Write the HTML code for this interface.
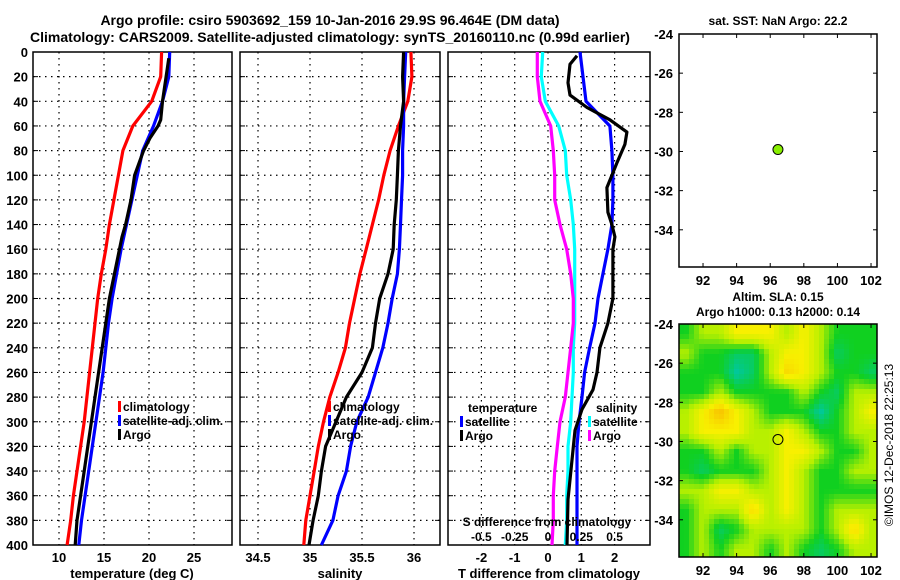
<!DOCTYPE html>
<html><head><meta charset="utf-8"><style>
html,body{margin:0;padding:0;background:#fff}
svg{display:block}
text{font-family:"Liberation Sans",Arial,sans-serif;font-weight:bold;fill:#000}
</style></head><body>
<svg id="chart" width="900" height="580" viewBox="0 0 900 580" xmlns="http://www.w3.org/2000/svg">
<text x="330" y="25" font-size="14" text-anchor="middle">Argo profile: csiro 5903692_159 10-Jan-2016 29.9S 96.464E (DM data)</text>
<text x="330" y="42" font-size="14" text-anchor="middle">Climatology: CARS2009. Satellite-adjusted climatology: synTS_20160110.nc (0.99d earlier)</text>
<text x="778" y="25" font-size="12" text-anchor="middle">sat. SST: NaN Argo: 22.2</text>
<text x="778" y="301" font-size="12" text-anchor="middle">Altim. SLA: 0.15</text>
<text x="778" y="316" font-size="12" text-anchor="middle">Argo h1000: 0.13 h2000: 0.14</text>
<text transform="translate(893,445) rotate(-90)" font-size="12" font-weight="normal" text-anchor="middle" style="font-weight:normal">©IMOS 12-Dec-2018 22:25:13</text>
<g id="layer"></g>
</svg>
<script>
// ---- profile data ----
const depths = [0,20,40,60,80,100,120,140,160,180,200,220,240,260,280,300,320,340,360,380,400];
const tempClim = [21.4,21.3,20.3,18.2,17.1,16.6,16.1,15.6,15.2,14.7,14.3,14.0,13.7,13.4,13.1,12.8,12.4,12.0,11.6,11.3,10.9];
const tempSat  = [22.3,22.2,21.5,20.5,19.3,18.7,18.1,17.5,16.9,16.4,15.9,15.5,15.2,14.9,14.5,14.1,13.7,13.3,12.9,12.5,12.2];
const tempArgoDepths = [5,20,40,55,60,70,80,100,120,140,150,200,250,280,300,320,340,360,380,400];
const tempArgo = [22.2,21.9,21.5,21.3,21.0,20.1,19.4,18.4,18.0,17.4,17.0,15.6,14.6,14.0,13.6,13.2,12.8,12.4,12.0,11.8];
const salClim = [35.97,35.98,35.94,35.85,35.77,35.71,35.66,35.60,35.54,35.48,35.43,35.38,35.34,35.27,35.19,35.13,35.08,35.04,35.00,34.96,34.94];
const salSat  = [35.92,35.91,35.90,35.90,35.89,35.89,35.88,35.87,35.86,35.84,35.79,35.75,35.70,35.63,35.56,35.45,35.39,35.35,35.27,35.22,35.11];
const salArgo = [35.90,35.89,35.90,35.87,35.85,35.84,35.83,35.81,35.80,35.75,35.67,35.63,35.60,35.50,35.35,35.25,35.15,35.11,35.08,35.03,34.99];
const tDiffSat = [0.96,1.05,1.14,1.86,1.92,1.95,1.95,1.92,1.80,1.65,1.50,1.41,1.25,1.10,1.02,0.93,0.87,0.87,0.87,0.87,0.87];
const tDiffArgoDepths = [3,10,25,35,45,55,65,75,90,100,110,130,140,150,160,180,200,220,240,260,274,290,307,331,363,400];
const tDiffArgo = [0.87,0.66,0.60,0.66,1.17,1.86,2.37,2.31,2.07,1.92,1.77,1.80,1.92,2.01,1.95,1.95,1.95,1.80,1.56,1.47,1.35,1.02,0.81,0.72,0.60,0.57];
const sDiffSat  = [-0.04,-0.05,-0.02,0.08,0.13,0.14,0.17,0.19,0.20,0.20,0.20,0.20,0.19,0.19,0.18,0.17,0.15,0.15,0.14,0.14,0.13];
const sDiffArgo = [-0.08,-0.08,-0.06,0.02,0.04,0.05,0.05,0.09,0.14,0.17,0.19,0.19,0.17,0.15,0.13,0.09,0.07,0.05,0.04,0.04,0.03];
const depthTicks = [0,20,40,60,80,100,120,140,160,180,200,220,240,260,280,300,320,340,360,380,400];
const tempTicks = [10,15,20,25];
const salTicks = [34.5,35,35.5,36];
const tDiffTicks = [-2,-1,0,1,2];
const sDiffTickLabels = ["-0.5","-0.25","0","0.25","0.5"];
const lonTicks = [92,94,96,98,100,102];
const latTicks = [-24,-26,-28,-30,-32,-34];
const argoLon = 96.46, argoLat = -29.9;
// SLA field: rows lat -24..-35 (1 deg), cols lon 91..102 (1 deg); 0 teal .. 4 orange
const slaField = [
[1,2,2,3,3,3,2,3,2,1,1,1],
[2,1,1,0.5,0.5,2,3,3,2,0.5,1,1],
[1,1,1,0,0.5,2,3.5,3,2,1,1,0.5],
[1,1,2,1,1,1,1,2,1,0.5,2,2],
[2,3,4,3,2,1,1,1,0,1,2,3],
[2,3,3,3,2,2,3,2,1,1,2,2],
[1,1,2,1,2,2,3,3,2,1,1,2],
[1,0.5,1,1,1,2,3,2,1,1,2,2],
[2,2,3,3,2,2,3,2,1,1,1,1],
[1,2,2,2,3.5,2,3,2,1,2,2,2],
[1,2,0.5,1,2,2,2,2,1,2,3.5,2],
[1,2,1,2,2,1,2,1,0.5,1,2,2]];

const NS='http://www.w3.org/2000/svg';
const layer=document.getElementById('layer');
function mk(tag,attrs,parent){const e=document.createElementNS(NS,tag);for(const k in attrs)e.setAttribute(k,attrs[k]);(parent||layer).appendChild(e);return e;}
const TOP=52,BOT=545;
const yD=d=>TOP+(d/400)*(BOT-TOP);
const xT=v=>59+(v-10)*9;
const xS=v=>310+(v-35)*104;
const xTD=v=>548+v*33.3;
const xSD=v=>548+v*133.3;

function panel(name,x0,x1,xticks,xfun,labels,showY){
  const g=mk('g',{});
  
  
  depthTicks.forEach(d=>{
    if(d>0&&d<400){const l=mk('line',{x1:x0,x2:x1,y1:yD(d),y2:yD(d),stroke:'#000','stroke-width':1.2,'stroke-dasharray':'1.5,4.5'},g);
    }
    const tk=mk('line',{x1:x0,x2:x0+5,y1:yD(d),y2:yD(d),stroke:'#000'},g);
    
    const tk2=mk('line',{x1:x1-5,x2:x1,y1:yD(d),y2:yD(d),stroke:'#000'},g);
    
    if(showY){const t=mk('text',{x:x0-5,y:yD(d)+5,'font-size':13,'text-anchor':'end'},g);t.textContent=d;
      }
  });
  xticks.forEach((v,i)=>{
    const x=xfun(v);
    const l=mk('line',{x1:x,x2:x,y1:TOP,y2:BOT,stroke:'#000','stroke-width':1.2,'stroke-dasharray':'1.5,4.5'},g);
    
    const t=mk('text',{x:x,y:562,'font-size':13,'text-anchor':'middle'},g);t.textContent=labels?labels[i]:v;
    
  });
  const r=mk('rect',{x:x0,y:TOP,width:x1-x0,height:BOT-TOP,fill:'none',stroke:'#000','stroke-width':1.5},g);
  
  return g;
}
function line(g,xs,ds,xfun,color,name){
  const pts=xs.map((v,i)=>xfun(v).toFixed(1)+','+yD(ds[i]).toFixed(1)).join(' ');
  const p=mk('polyline',{points:pts,fill:'none',stroke:color,'stroke-width':3.2,'stroke-linejoin':'round'},g);
  
}
function txt(g,x,y,s,name,size,anchor){const t=mk('text',{x:x,y:y,'font-size':size||12,'text-anchor':anchor||'start'},g);t.textContent=s;
  return t;}
function legend(g,x,y,color,label,name){
  const b=mk('rect',{x:x,y:y-10,width:3,height:11,fill:color},g);
  
  txt(g,x+5,y,label,name);
}

// Panel 1 temperature
const g1=panel('temperature-panel',33,232,tempTicks,xT,null,true);
line(g1,tempClim,depths,xT,'#ff0000','climatology-temp-line');
line(g1,tempSat,depths,xT,'#0000ff','satellite-temp-line');
line(g1,tempArgo,tempArgoDepths,xT,'#000','argo-temp-line');
legend(g1,118,411,'#ff0000','climatology','legend-climatology');
legend(g1,118,425,'#0000ff','satellite-adj. clim.','legend-satellite');
legend(g1,118,439,'#000','Argo','legend-argo');
txt(g1,132,578,'temperature (deg C)','x-axis-title-temperature',13,'middle');

// Panel 2 salinity
const g2=panel('salinity-panel',240,440,salTicks,xS,null,false);
line(g2,salClim,depths,xS,'#ff0000','climatology-salinity-line');
line(g2,salSat,depths,xS,'#0000ff','satellite-salinity-line');
line(g2,salArgo,depths,xS,'#000','argo-salinity-line');
legend(g2,328,411,'#ff0000','climatology','legend-climatology');
legend(g2,328,425,'#0000ff','satellite-adj. clim.','legend-satellite');
legend(g2,328,439,'#000','Argo','legend-argo');
txt(g2,340,578,'salinity','x-axis-title-salinity',13,'middle');

// Panel 3 differences
const g3=panel('difference-panel',448,650,tDiffTicks,xTD,null,false);
line(g3,sDiffSat,depths,xSD,'#00ffff','satellite-salinity-diff-line');
line(g3,sDiffArgo,depths,xSD,'#ff00ff','argo-salinity-diff-line');
line(g3,tDiffSat,depths,xTD,'#0000ff','satellite-temp-diff-line');
line(g3,tDiffArgo,tDiffArgoDepths,xTD,'#000','argo-temp-diff-line');
txt(g3,468,412,'temperature','legend-temperature-header');
legend(g3,460,426,'#0000ff','satellite','legend-temp-satellite');
legend(g3,460,440,'#000','Argo','legend-temp-argo');
txt(g3,596,412,'salinity','legend-salinity-header');
legend(g3,588,426,'#00ffff','satellite','legend-sal-satellite');
legend(g3,588,440,'#ff00ff','Argo','legend-sal-argo');
txt(g3,547,526,'S difference from climatology','s-diff-axis-title',12,'middle');
tDiffTicks.forEach((v,i)=>txt(g3,xTD(v),541,sDiffTickLabels[i],'s-diff-tick-label',12,'middle'));
txt(g3,549,578,'T difference from climatology','x-axis-title-tdiff',13,'middle');

// Maps
function mapAxes(name,top,bot){
  const L=679,R=877;
  const xL=lon=>L+(lon-90.57)*16.8;
  const yL=lat=>top+(-24-lat)*((bot-top)/11.9);
  const g=mk('g',{});
  
  return {g,xL,yL,L,R};
}
function mapFrame(m,top,bot){
  const {g,xL,yL,L,R}=m;
  const r=mk('rect',{x:L,y:top,width:R-L,height:bot-top,fill:'none',stroke:'#000','stroke-width':1.5},g);
  
  lonTicks.forEach(v=>{
    mk('line',{x1:xL(v),x2:xL(v),y1:bot,y2:bot-4,stroke:'#000'},g);
    mk('line',{x1:xL(v),x2:xL(v),y1:top,y2:top+4,stroke:'#000'},g);
    txt(g,xL(v),bot+18,v,'lon-tick-label',13,'middle');
  });
  latTicks.forEach(v=>{
    mk('line',{x1:L,x2:L+4,y1:yL(v),y2:yL(v),stroke:'#000'},g);
    mk('line',{x1:R-4,x2:R,y1:yL(v),y2:yL(v),stroke:'#000'},g);
    txt(g,L-6,yL(v)+5,v,'lat-tick-label',13,'end');
  });
}
const m1=mapAxes('sst-map',34,267);
mapFrame(m1,34,267);
const dot=mk('circle',{cx:m1.xL(argoLon),cy:m1.yL(argoLat),r:5,fill:'#88ee00',stroke:'#000','stroke-width':1},m1.g);


const m2=mapAxes('sla-map',324,557);
const stops=[[0,200,160],[16,208,32],[184,240,0],[248,240,0],[248,192,0]];
function col(v){v=Math.max(0,Math.min(4,v));const i=Math.min(3,Math.floor(v)),f=v-i;
  const a=stops[i],b=stops[i+1];return 'rgb('+a.map((c,k)=>Math.round(c+(b[k]-c)*f)).join(',')+')';}
function field(lon,lat){
  const nr=slaField.length,nc=slaField[0].length;
  let c=lon-91, r=-24.5-lat; // cell centers
  c=Math.max(0,Math.min(nc-1,c));r=Math.max(0,Math.min(nr-1,r));
  const c0=Math.min(nc-2,Math.floor(c)),r0=Math.min(nr-2,Math.floor(r));
  const fc=c-c0,fr=r-r0;
  const s=(rr,cc)=>slaField[rr][cc];
  return (s(r0,c0)*(1-fc)+s(r0,c0+1)*fc)*(1-fr)+(s(r0+1,c0)*(1-fc)+s(r0+1,c0+1)*fc)*fr;
}
const cell=5;
const hm=mk('g',{},m2.g);

for(let y=324;y<557;y+=cell){for(let x=679;x<877;x+=cell){
  const lon=90.57+(x+cell/2-679)/16.8, lat=-24-(y+cell/2-324)/(233/11.9);
  mk('rect',{x:x,y:y,width:Math.min(cell,877-x)+0.5,height:Math.min(cell,557-y)+0.5,fill:col(field(lon,lat))},hm);
}}
mapFrame(m2,324,557);
const ring=mk('circle',{cx:m2.xL(argoLon),cy:m2.yL(argoLat),r:5,fill:'none',stroke:'#000','stroke-width':1},m2.g);

</script>
</body></html>
